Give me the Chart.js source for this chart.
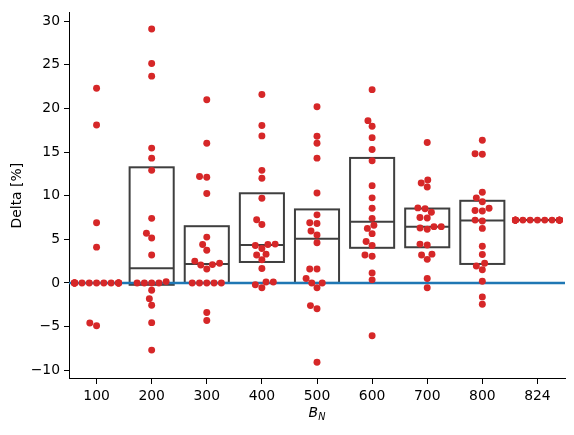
<!DOCTYPE html>
<html>
<head>
<meta charset="utf-8">
<script src="https://cdn.jsdelivr.net/npm/chart.js@4.4.1/dist/chart.umd.min.js"></script>
<style>
  html, body { margin: 0; padding: 0; background: #fff; }
  canvas { display: block; }
</style>
</head>
<body>
<canvas id="chart" width="574" height="435"></canvas>
<script>
// categories on the x axis (B_N)
const categories = ['100', '200', '300', '400', '500', '600', '700', '800', '824'];

// Delta [%] per category
// (100 and 824 have extra points stacked at the swarm edges, so the box is flat)
const d100 = [22.3, 18.1, 6.9, 4.1, 0, 0, 0, 0, 0, 0, 0, 0, 0, 0, 0, 0, 0, 0, -4.6, -4.9];
const d200 = [29.1, 25.15, 23.7, 15.45, 14.3, 12.9, 7.4, 5.7, 5.15, 3.2, 0.15, 0, 0, 0, 0, -0.85, -1.8, -2.55, -4.55, -7.7];
const d300 = [21.0, 16.0, 12.2, 12.1, 10.25, 5.25, 4.4, 3.75, 2.5, 2.25, 2.1, 2.05, 1.6, 0, 0, 0, 0, 0, -3.4, -4.3];
const d400 = [21.6, 18.05, 16.85, 12.9, 12.0, 9.7, 7.25, 6.7, 4.45, 4.4, 4.3, 3.95, 3.3, 3.2, 2.65, 1.65, 0.1, 0.1, -0.2, -0.55];
const d500 = [20.2, 16.8, 16.0, 14.3, 10.3, 7.8, 6.9, 6.8, 5.95, 5.5, 4.6, 1.6, 1.6, 0.5, 0, 0, -0.55, -2.6, -2.95, -9.1];
const d600 = [22.15, 18.6, 17.95, 16.65, 15.3, 14.0, 11.15, 9.75, 8.55, 7.4, 6.6, 6.25, 5.65, 4.75, 4.3, 3.2, 3.05, 1.15, 0.35, -6.05];
const d700 = [16.1, 11.8, 11.45, 11.0, 8.6, 8.5, 8.1, 7.5, 7.45, 6.45, 6.45, 6.3, 6.15, 4.45, 4.35, 3.3, 3.2, 2.7, 0.5, -0.55];
const d800 = [16.35, 14.8, 14.75, 10.4, 9.75, 9.3, 8.55, 8.3, 8.25, 7.2, 7.1, 6.25, 4.2, 3.25, 2.25, 1.95, 1.5, 0.2, -1.6, -2.45];
const d824 = [7.2, 7.2, 7.2, 7.2, 7.2, 7.2, 7.2, 7.2, 7.2, 7.2, 7.2, 7.2, 7.2, 7.2, 7.2, 7.2, 7.2, 7.2, 7.2, 7.2];

const yTicks = [-10, -5, 0, 5, 10, 15, 20, 25, 30];
const refLine = 0;

const series = [d100, d200, d300, d400, d500, d600, d700, d800, d824];

// plot box in the 574x435 canvas
const W = 574, H = 435;
const PLOT_LEFT = 69, PLOT_RIGHT = 565, PLOT_TOP = 10, PLOT_BOTTOM = 379;
const FONT = 'DejaVu Sans';
const FS = 13.9;
const BOX_HALF = 0.4;

// y limits like matplotlib autoscale (5% margin)
const all = series.flat();
const dMin = Math.min(...all), dMax = Math.max(...all);
const yMin = dMin - 0.05 * (dMax - dMin);
const yMax = dMax + 0.05 * (dMax - dMin);
const xMin = -0.5, xMax = categories.length - 0.5;

// swarm layout (same idea as seaborn's Beeswarm), done in pixels
const kx = (PLOT_RIGHT - PLOT_LEFT) / (xMax - xMin);
const ky = (PLOT_BOTTOM - PLOT_TOP) / (yMax - yMin);
const R = 2.5 * 100 / 72;

function swarm(values, ci) {
  const sorted = values.slice().sort((a, b) => a - b);
  const pts = sorted.map(v => ({ x: 0, y: v * ky, v: v }));
  const placed = [pts[0]];
  for (let i = 1; i < pts.length; i++) {
    const p = pts[i];
    const nb = [];
    for (let j = placed.length - 1; j >= 0; j--) {
      if (p.y - placed[j].y < 2 * R) nb.push(placed[j]); else break;
    }
    nb.reverse();
    const cands = [0];
    let leftFirst = true;
    nb.forEach(q => {
      const dy = p.y - q.y;
      const dx = Math.sqrt(Math.max(4 * R * R - dy * dy, 0)) * 1.05;
      if (leftFirst) cands.push(q.x - dx, q.x + dx); else cands.push(q.x + dx, q.x - dx);
      leftFirst = !leftFirst;
    });
    const order = cands.map((c, k) => k).sort((a, b) => Math.abs(cands[a]) - Math.abs(cands[b]));
    let pick = cands[order[0]];
    for (const k of order) {
      const c = cands[k];
      const ok = nb.every(q => (q.x - c) ** 2 + (q.y - p.y) ** 2 >= 4 * R * R);
      if (ok) { pick = c; break; }
    }
    p.x = pick;
    placed.push(p);
  }
  // points that do not fit go to the gutters
  return placed.map(p => {
    let off = p.x / kx;
    off = Math.max(-BOX_HALF, Math.min(BOX_HALF, off));
    return { x: ci + off, y: p.v };
  });
}

const swarmPoints = series.flatMap((vals, i) => swarm(vals, i));

function quantile(sorted, q) {
  const pos = (sorted.length - 1) * q;
  const lo = Math.floor(pos), hi = Math.ceil(pos);
  return sorted[lo] + (sorted[hi] - sorted[lo]) * (pos - lo);
}

const boxes = series.map(vals => {
  const s = vals.slice().sort((a, b) => a - b);
  return { q1: quantile(s, 0.25), med: quantile(s, 0.5), q3: quantile(s, 0.75) };
});

const boxPlugin = {
  id: 'boxes',
  beforeDatasetsDraw(chart) {
    const { ctx, scales: { x, y } } = chart;
    ctx.save();
    ctx.strokeStyle = '#3f3f3f';
    ctx.lineWidth = 2;
    boxes.forEach((b, i) => {
      const x0 = x.getPixelForValue(i - BOX_HALF), x1 = x.getPixelForValue(i + BOX_HALF);
      const yq1 = y.getPixelForValue(b.q1), yq3 = y.getPixelForValue(b.q3), ym = y.getPixelForValue(b.med);
      ctx.strokeRect(x0, yq3, x1 - x0, yq1 - yq3);
      ctx.beginPath();
      ctx.moveTo(x0, ym);
      ctx.lineTo(x1, ym);
      ctx.stroke();
    });
    ctx.restore();
  }
};

const labelPlugin = {
  id: 'axisLabels',
  afterDraw(chart) {
    const { ctx, chartArea } = chart;
    ctx.save();
    ctx.fillStyle = '#000';
    // y label
    ctx.font = FS + 'px "' + FONT + '"';
    ctx.textAlign = 'center';
    ctx.textBaseline = 'middle';
    ctx.translate(17, (chartArea.top + chartArea.bottom) / 2);
    ctx.rotate(-Math.PI / 2);
    ctx.fillText('Delta [%]', 0, 0);
    ctx.restore();

    // x label: italic B with subscript N
    ctx.save();
    ctx.fillStyle = '#000';
    ctx.textBaseline = 'alphabetic';
    ctx.textAlign = 'left';
    const cx = (chartArea.left + chartArea.right) / 2;
    ctx.font = 'italic ' + FS + 'px "' + FONT + '"';
    const wB = ctx.measureText('B').width;
    ctx.font = 'italic ' + (FS * 0.7).toFixed(1) + 'px "' + FONT + '"';
    const wN = ctx.measureText('N').width;
    const start = cx - (wB + wN) / 2;
    ctx.font = 'italic ' + FS + 'px "' + FONT + '"';
    ctx.fillText('B', start, 417);
    ctx.font = 'italic ' + (FS * 0.7).toFixed(1) + 'px "' + FONT + '"';
    ctx.fillText('N', start + wB, 420);
    ctx.restore();
  }
};

const tickFont = { family: FONT, size: FS };

new Chart(document.getElementById('chart'), {
  type: 'scatter',
  data: {
    datasets: [
      {
        data: swarmPoints,
        pointRadius: R,
        pointHoverRadius: R,
        pointBackgroundColor: '#d62728',
        pointBorderWidth: 0,
        order: 0
      },
      {
        type: 'line',
        data: [{ x: xMin, y: refLine }, { x: xMax, y: refLine }],
        borderColor: '#1f77b4',
        borderWidth: 2.5,
        pointRadius: 0,
        showLine: true,
        order: 1
      }
    ]
  },
  options: {
    responsive: false,
    animation: false,
    devicePixelRatio: 1,
    layout: { padding: { left: 0, top: PLOT_TOP, right: W - PLOT_RIGHT, bottom: 0 } },
    plugins: { legend: { display: false }, tooltip: { enabled: false } },
    scales: {
      x: {
        type: 'linear',
        min: xMin,
        max: xMax,
        afterBuildTicks: s => { s.ticks = categories.map((c, i) => ({ value: i })); },
        afterFit: s => { s.height = H - PLOT_BOTTOM; },
        ticks: {
          callback: v => categories[v],
          autoSkip: false,
          maxRotation: 0,
          color: '#000',
          font: tickFont,
          padding: 4
        },
        grid: { display: true, drawOnChartArea: false, drawTicks: true, tickLength: 5, tickColor: '#000', tickWidth: 1 },
        border: { display: true, color: '#000', width: 1 }
      },
      y: {
        type: 'linear',
        min: yMin,
        max: yMax,
        afterBuildTicks: s => { s.ticks = yTicks.map(v => ({ value: v })); },
        afterFit: s => { s.width = PLOT_LEFT; },
        ticks: {
          callback: v => String(v).replace('-', '\u2212'),
          autoSkip: false,
          color: '#000',
          font: tickFont,
          padding: 4
        },
        grid: { display: true, drawOnChartArea: false, drawTicks: true, tickLength: 5, tickColor: '#000', tickWidth: 1 },
        border: { display: true, color: '#000', width: 1 }
      }
    }
  },
  plugins: [boxPlugin, labelPlugin]
});
</script>
</body>
</html>
